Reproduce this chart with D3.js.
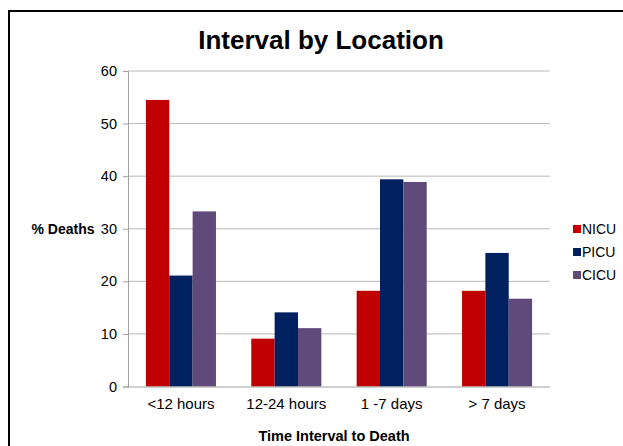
<!DOCTYPE html>
<html><head><meta charset="utf-8">
<script src="https://cdn.jsdelivr.net/npm/d3@7"></script>
<style>body{margin:0;background:#fff}svg{display:block;font-family:Arial,"Liberation Sans",sans-serif}</style>
</head><body>
<svg id="c" width="623" height="446"></svg>
<script>
const categories = ["<12 hours", "12-24 hours", "1 -7 days", "> 7 days"];
const seriesNames = ["NICU", "PICU", "CICU"];
const NICU = [54.5, 9.1, 18.2, 18.2];
const PICU = [21.1, 14.1, 39.4, 25.4];
const CICU = [33.3, 11.1, 38.9, 16.7];
const yTicks = [0, 10, 20, 30, 40, 50, 60];
const colors = ["#C00000", "#002060", "#604A7B"];
const values = [NICU, PICU, CICU];

const svg = d3.select("#c");
svg.append("rect").attr("x", 9).attr("y", 11).attr("width", 640).attr("height", 460)
  .attr("fill", "#fff").attr("stroke", "#000").attr("stroke-width", 2);

const m = {l: 128, r: 550, t: 71, b: 386.5};
const x = d3.scaleBand().domain(categories).range([m.l, m.r]).paddingInner(0.335).paddingOuter(0.17);
const xs = d3.scaleBand().domain(seriesNames).range([0, x.bandwidth()]);
const y = d3.scaleLinear().domain([0, 60]).range([m.b, m.t]);

// gridlines
svg.append("g").selectAll("line").data(yTicks.filter(d => d > 0)).join("line")
  .attr("x1", m.l).attr("x2", m.r).attr("y1", d => y(d)).attr("y2", d => y(d))
  .attr("stroke", "#b8b8b8").attr("stroke-width", 1);

// bars
const g = svg.append("g");
seriesNames.forEach((s, i) => {
  g.append("g").selectAll("rect").data(values[i]).join("rect")
    .attr("x", (d, j) => x(categories[j]) + xs(s))
    .attr("width", xs.bandwidth())
    .attr("y", d => y(d))
    .attr("height", d => y(0) - y(d))
    .attr("fill", colors[i]);
});

// y axis
const ya = d3.axisLeft(y).tickValues(yTicks).tickSize(5).tickPadding(6);
const yg = svg.append("g").attr("transform", `translate(${m.l},0)`).call(ya);
yg.select(".domain").attr("stroke", "#a0a0a0");
yg.selectAll(".tick line").attr("stroke", "#a0a0a0");
yg.selectAll("text").attr("font-size", 14.5).attr("fill", "#000").attr("font-family", "Arial, 'Liberation Sans', sans-serif");

// x axis
const xa = d3.axisBottom(x).tickSize(0).tickPadding(12);
const xg = svg.append("g").attr("transform", `translate(0,${m.b})`).call(xa);
xg.select(".domain").attr("stroke", "#a0a0a0").attr("d", `M${m.l},0.5H${m.r}`);
xg.selectAll("text").attr("font-size", 15).attr("fill", "#000").attr("font-family", "Arial, 'Liberation Sans', sans-serif");

// titles
svg.append("text").attr("x", 321).attr("y", 49).attr("text-anchor", "middle")
  .attr("font-size", 26).attr("font-weight", "bold").text("Interval by Location");
svg.append("text").attr("x", 63).attr("y", 234).attr("text-anchor", "middle")
  .attr("font-size", 14).attr("font-weight", "bold").text("% Deaths");
svg.append("text").attr("x", 334).attr("y", 441).attr("text-anchor", "middle")
  .attr("font-size", 14.5).attr("font-weight", "bold").text("Time Interval to Death");

// legend
const lg = svg.append("g");
seriesNames.forEach((s, i) => {
  const yy = 229 + i * 23;
  lg.append("rect").attr("x", 573).attr("y", yy - 4).attr("width", 8).attr("height", 8).attr("fill", colors[i]);
  lg.append("text").attr("x", 582).attr("y", yy + 5).attr("font-size", 14).text(s);
});
</script>
</body></html>
